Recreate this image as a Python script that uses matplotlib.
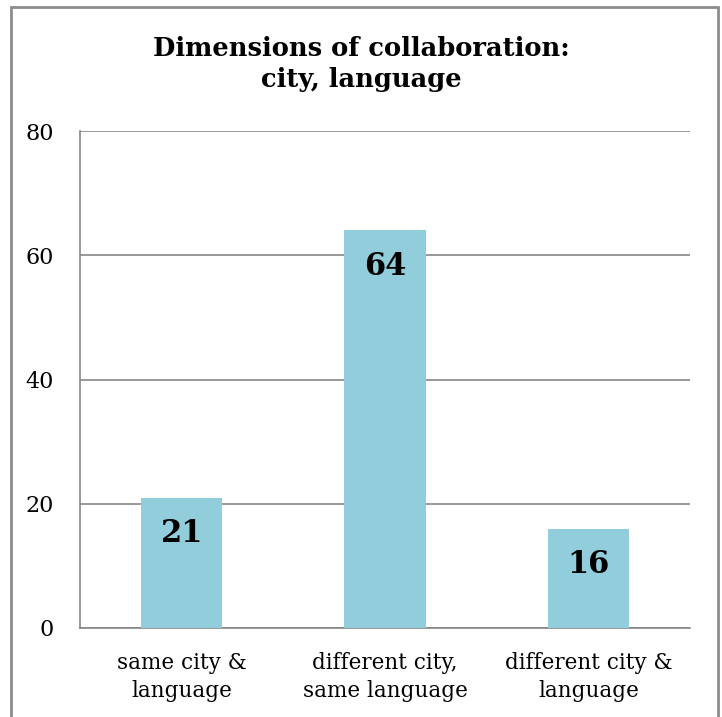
import matplotlib
matplotlib.use("Agg")
import matplotlib.pyplot as plt
from matplotlib.patches import Rectangle

categories = ["same city &\nlanguage", "different city,\nsame language", "different city &\nlanguage"]
values = [21, 64, 16]
yticks = [0, 20, 40, 60, 80]

bar_color = "#92CDDC"
grid_color = "#868686"

fig = plt.figure(figsize=(7.22, 7.17), dpi=100)
ax = fig.add_axes([80/722, 1 - 628/717, 610/722, 497/717])

x = list(range(len(values)))
ax.bar(x, values, width=0.4, color=bar_color, zorder=3)
ax.set_xlim(-0.5, len(values) - 0.5)
ax.set_ylim(0, 80)
ax.set_yticks(yticks)
ax.set_xticks(x)
ax.set_xticklabels(categories, fontsize=15.5, family="DejaVu Serif", linespacing=1.4)
ax.tick_params(axis="x", length=0, pad=17)
ax.tick_params(axis="y", length=0, pad=19)
for lab in ax.get_yticklabels():
    lab.set_fontsize(16)
    lab.set_family("DejaVu Serif")
ax.grid(axis="y", color=grid_color, linewidth=1.2, zorder=0)
for s in ["top", "right"]:
    ax.spines[s].set_visible(False)
ax.spines["left"].set_color(grid_color)
ax.spines["bottom"].set_color(grid_color)
ax.spines["left"].set_linewidth(1.2)
ax.spines["bottom"].set_linewidth(1.2)

for xi, v in zip(x, values):
    ax.annotate(str(v), (xi, v), xytext=(0, -36), textcoords="offset pixels",
                ha="center", va="center", fontsize=22, fontweight="bold", family="DejaVu Serif", zorder=4)

fig.text(0.5, 1 - 64/717, "Dimensions of collaboration:\ncity, language", ha="center", va="center",
         fontsize=18.5, fontweight="bold", family="DejaVu Serif", linespacing=1.35)

# chart border
fig.patches.append(Rectangle((11/722, -0.05), (718 - 11)/722, 1.05 - 7/717,
                             transform=fig.transFigure, fill=False, edgecolor="#8c8c8c", linewidth=2))

fig.savefig("out.png", dpi=100)
